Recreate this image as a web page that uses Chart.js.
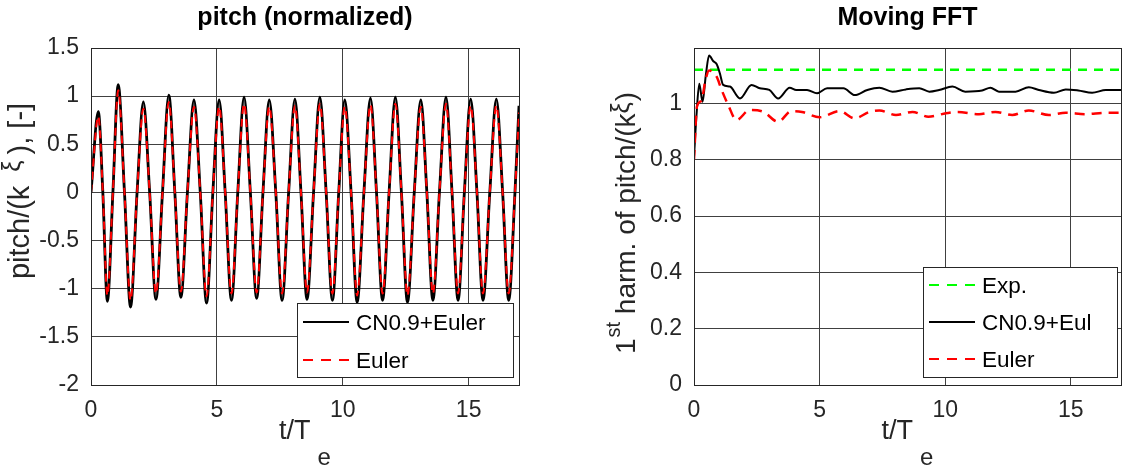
<!DOCTYPE html>
<html>
<head>
<meta charset="utf-8">
<script src="https://cdn.jsdelivr.net/npm/chart.js@4.4.0/dist/chart.umd.min.js"></script>
<style>
  body { margin: 0; background: #fff; }
  #wrap { position: relative; width: 1122px; height: 470px; }
  canvas { position: absolute; top: 0; }
</style>
</head>
<body>
<div id="wrap">
  <canvas id="pitchChart" width="561" height="470" style="left:0"></canvas>
  <canvas id="fftChart" width="561" height="470" style="left:561px"></canvas>
</div>
<script>
const FONT = '"Liberation Sans", Arial, Helvetica, sans-serif';

// ---- data: pitch (normalized) (extrema + zero crossings)
const pitchT = [0, 0.29, 0.47, 0.65, 0.87, 1.08, 1.33, 1.57, 1.83, 2.08, 2.33, 2.58, 2.84, 3.09, 3.33, 3.57,
  3.83, 4.09, 4.34, 4.59, 4.84, 5.09, 5.33, 5.58, 5.83, 6.08, 6.33, 6.58, 6.83, 7.08, 7.34, 7.59,
  7.85, 8.10, 8.34, 8.58, 8.84, 9.09, 9.34, 9.59, 9.84, 10.08, 10.33, 10.57, 10.84, 11.10, 11.34, 11.58,
  11.84, 12.09, 12.33, 12.57, 12.84, 13.10, 13.34, 13.58, 13.84, 14.10, 14.34, 14.58, 14.83, 15.08, 15.33, 15.57,
  15.84, 16.10, 16.35, 16.59, 16.84, 17.0];
const pitchCN = [0, 0.84, 0, -1.13, 0, 1.12, 0, -1.19, 0, 0.94, 0, -1.11, 0, 1.01, 0, -1.09,
  0, 0.96, 0, -1.15, 0, 0.96, 0, -1.12, 0, 0.99, 0, -1.10, 0, 0.96, 0, -1.12,
  0, 0.97, 0, -1.11, 0, 0.99, 0, -1.12, 0, 0.96, 0, -1.14, 0, 0.98, 0, -1.12,
  0, 0.99, 0, -1.14, 0, 0.96, 0, -1.12, 0, 0.99, 0, -1.12, 0, 0.97, 0, -1.12,
  0, 0.97, 0, -1.12, 0, 0.90];
const pitchEuler = [0, 0.79, 0, -1.07, 0, 1.06, 0, -1.12, 0, 0.87, 0, -1.05, 0, 0.94, 0, -1.03,
  0, 0.89, 0, -1.08, 0, 0.89, 0, -1.05, 0, 0.92, 0, -1.04, 0, 0.89, 0, -1.05,
  0, 0.90, 0, -1.04, 0, 0.92, 0, -1.05, 0, 0.89, 0, -1.07, 0, 0.91, 0, -1.05,
  0, 0.92, 0, -1.07, 0, 0.89, 0, -1.05, 0, 0.92, 0, -1.05, 0, 0.90, 0, -1.05,
  0, 0.90, 0, -1.05, 0, 0.83];

// ---- data: moving FFT, 1st harmonic
const fftTimeCN = [0, 0.1, 0.21, 0.34, 0.47, 0.6, 0.77, 0.9, 1.03, 1.16, 1.43, 1.83, 2.29, 2.62, 3.0, 3.35,
  3.81, 4.07, 4.5, 4.9, 5.3, 5.95, 6.4, 6.9, 7.38, 7.9, 8.44, 8.97, 9.37, 9.76, 10.29, 10.8,
  11.47, 11.8, 12.14, 12.8, 13.33, 13.73, 14.33, 14.8, 15.3, 15.85, 16.4, 17];
const fftCN = [0.81, 0.96, 1.07, 1.006, 1.1, 1.17, 1.15, 1.14, 1.107, 1.066, 1.06, 1.018, 1.066, 1.054, 1.048, 1.018,
  1.056, 1.048, 1.048, 1.036, 1.054, 1.054, 1.03, 1.048, 1.056, 1.042, 1.05, 1.054, 1.042, 1.048, 1.06, 1.042,
  1.046, 1.056, 1.042, 1.042, 1.058, 1.048, 1.038, 1.05, 1.046, 1.038, 1.048, 1.048];
const fftTimeEu = [0, 0.12, 0.3, 0.45, 0.6, 0.9, 1.1, 1.36, 1.69, 2.22, 2.75, 3.35, 3.88, 4.3, 5.0, 5.8,
  6.39, 6.98, 7.38, 8.04, 8.7, 9.33, 10.03, 10.5, 11.35, 12.0, 12.67, 13.33, 14.13, 14.8, 15.58, 16.4, 17];
const fftEuler = [0.8, 0.99, 1.01, 1.08, 1.117, 1.095, 1.048, 0.995, 0.941, 0.977, 0.971, 0.935, 0.973, 0.97, 0.951, 0.973,
  0.947, 0.97, 0.975, 0.959, 0.97, 0.953, 0.965, 0.97, 0.962, 0.97, 0.959, 0.975, 0.959, 0.967, 0.962, 0.967, 0.967];
const expT = [0, 17];
const expVal = [1.12, 1.12];

// tick labels
const xTicks = [0, 5, 10, 15];
const pitchTicksY = [-2, -1.5, -1, -0.5, 0, 0.5, 1, 1.5];
const fftTicksY = [0, 0.2, 0.4, 0.6, 0.8, 1];

function pts(xs, ys) {
    return xs.map((x, i) => ({ x: x, y: ys[i] }));
}

// draw a run of text pieces (for sub/superscripts), centered on x
function drawParts(ctx, parts, x, y) {
    let total = 0;
    parts.forEach(p => {
        ctx.font = p.s + 'px ' + FONT;
        total += (p.dx || 0) + ctx.measureText(p.t).width;
    });
    let cx = x - total / 2;
    parts.forEach(p => {
        ctx.font = p.s + 'px ' + FONT;
        cx += p.dx || 0;
        ctx.fillText(p.t, cx, y + (p.dy || 0));
        cx += ctx.measureText(p.t).width;
    });
}

// frame, title, axis labels and legend box
const decor = {
    id: 'decor',
    afterDraw(chart, args, o) {
        const ctx = chart.ctx;
        const a = chart.chartArea;
        ctx.save();
        ctx.strokeStyle = '#262626';
        ctx.lineWidth = 1;
        ctx.setLineDash([]);
        ctx.strokeRect(a.left + 0.5, a.top + 0.5, a.right - a.left, a.bottom - a.top);

        const mid = (a.left + a.right) / 2;
        ctx.fillStyle = '#000';
        ctx.textBaseline = 'alphabetic';
        ctx.textAlign = 'left';
        ctx.font = 'bold 25px ' + FONT;
        const tw = ctx.measureText(o.title).width;
        ctx.fillText(o.title, mid - tw / 2, 25);

        ctx.fillStyle = '#262626';
        drawParts(ctx, o.xlabel, mid, 439);

        ctx.save();
        ctx.translate(o.ylabelX, o.ylabelY);
        ctx.rotate(-Math.PI / 2);
        drawParts(ctx, o.ylabel, 0, 0);
        ctx.restore();

        // legend
        const L = o.legend;
        ctx.fillStyle = '#fff';
        ctx.fillRect(L.x, L.y, L.w, L.h);
        ctx.strokeStyle = '#262626';
        ctx.lineWidth = 1;
        ctx.strokeRect(L.x + 0.5, L.y + 0.5, L.w, L.h);
        L.items.forEach((idx, i) => {
            const ds = chart.data.datasets[idx];
            const y = L.y + L.first + i * L.gap;
            ctx.strokeStyle = ds.borderColor;
            ctx.lineWidth = 2;
            ctx.setLineDash(ds.borderDash ? [10, 8] : []);
            ctx.beginPath();
            ctx.moveTo(L.x + 6, y);
            ctx.lineTo(L.x + 52, y);
            ctx.stroke();
            ctx.setLineDash([]);
            ctx.fillStyle = '#000';
            ctx.font = '22.5px ' + FONT;
            ctx.textBaseline = 'middle';
            ctx.fillText(ds.label, L.x + 59, y + 2);
        });
        ctx.restore();
    }
};

function axisX() {
    return {
        type: 'linear',
        min: 0,
        max: 17,
        afterBuildTicks: s => { s.ticks = xTicks.map(v => ({ value: v })); },
        afterFit: s => { s.height = 85; },
        grid: { color: '#404040', drawTicks: false },
        border: { display: false },
        ticks: { color: '#262626', padding: 12, maxRotation: 0, font: { family: FONT, size: 23 }, callback: v => String(v) }
    };
}

function axisY(min, max, list, width) {
    return {
        type: 'linear',
        min: min,
        max: max,
        afterBuildTicks: s => { s.ticks = list.map(v => ({ value: v })); },
        afterFit: s => { s.width = width; },
        grid: { color: '#404040', drawTicks: false },
        border: { display: false },
        ticks: { color: '#262626', padding: 12, font: { family: FONT, size: 23 }, callback: v => String(v) }
    };
}

const xLabel = [{ t: 't/T', s: 27 }, { t: 'e', s: 24, dx: 7, dy: 26 }];

window.onload = function () {
    // Pitch (normalized)
    new Chart(document.getElementById('pitchChart').getContext('2d'), {
        type: 'line',
        data: {
            datasets: [
                {
                    label: 'Euler',
                    data: pts(pitchT, pitchEuler),
                    borderColor: '#ff0000',
                    borderWidth: 2,
                    borderDash: [8, 5],
                    cubicInterpolationMode: 'monotone',
                    pointRadius: 0,
                    order: 0
                },
                {
                    label: 'CN0.9+Euler',
                    data: pts(pitchT, pitchCN),
                    borderColor: '#000000',
                    borderWidth: 2.8,
                    cubicInterpolationMode: 'monotone',
                    pointRadius: 0,
                    order: 1
                }
            ]
        },
        options: {
            responsive: false,
            animation: false,
            layout: { padding: { top: 48, right: 42, bottom: 0, left: 0 } },
            scales: {
                x: axisX(),
                y: axisY(-2, 1.5, pitchTicksY, 91)
            },
            plugins: {
                legend: { display: false },
                tooltip: { enabled: false },
                decor: {
                    title: 'pitch (normalized)',
                    xlabel: xLabel,
                    ylabel: [{ t: 'pitch/(k', s: 29 }, { t: 'ξ', s: 25, dx: 14, dy: -9 }, { t: '), [-]', s: 29, dx: 6 }],
                    ylabelX: 29,
                    ylabelY: 191,
                    legend: { x: 297, y: 303, w: 216, h: 74, first: 19, gap: 38, items: [1, 0] }
                }
            }
        },
        plugins: [decor]
    });

    // Moving FFT
    new Chart(document.getElementById('fftChart').getContext('2d'), {
        type: 'line',
        data: {
            datasets: [
                {
                    label: 'Exp.',
                    data: pts(expT, expVal),
                    borderColor: '#00ff00',
                    borderWidth: 2.5,
                    borderDash: [9, 7],
                    pointRadius: 0,
                    order: 2
                },
                {
                    label: 'CN0.9+Eul',
                    data: pts(fftTimeCN, fftCN),
                    borderColor: '#000000',
                    borderWidth: 2,
                    cubicInterpolationMode: 'monotone',
                    pointRadius: 0,
                    order: 1
                },
                {
                    label: 'Euler',
                    data: pts(fftTimeEu, fftEuler),
                    borderColor: '#ff0000',
                    borderWidth: 2.5,
                    borderDash: [10, 7],
                    cubicInterpolationMode: 'monotone',
                    pointRadius: 0,
                    order: 0
                }
            ]
        },
        options: {
            responsive: false,
            animation: false,
            layout: { padding: { top: 48, right: 1, bottom: 0, left: 0 } },
            scales: {
                x: axisX(),
                y: axisY(0, 1.197, fftTicksY, 133)
            },
            plugins: {
                legend: { display: false },
                tooltip: { enabled: false },
                decor: {
                    title: 'Moving FFT',
                    xlabel: xLabel,
                    ylabel: [{ t: '1', s: 28 }, { t: 'st', s: 20, dx: 1, dy: -15 }, { t: ' harm. of pitch/(k', s: 28 }, { t: 'ξ', s: 25, dy: -6 }, { t: ')', s: 28, dx: 1 }],
                    ylabelX: 74,
                    ylabelY: 223,
                    legend: { x: 362, y: 267, w: 194, h: 110, first: 18, gap: 37, items: [0, 1, 2] }
                }
            }
        },
        plugins: [decor]
    });
};
</script>
</body>
</html>
